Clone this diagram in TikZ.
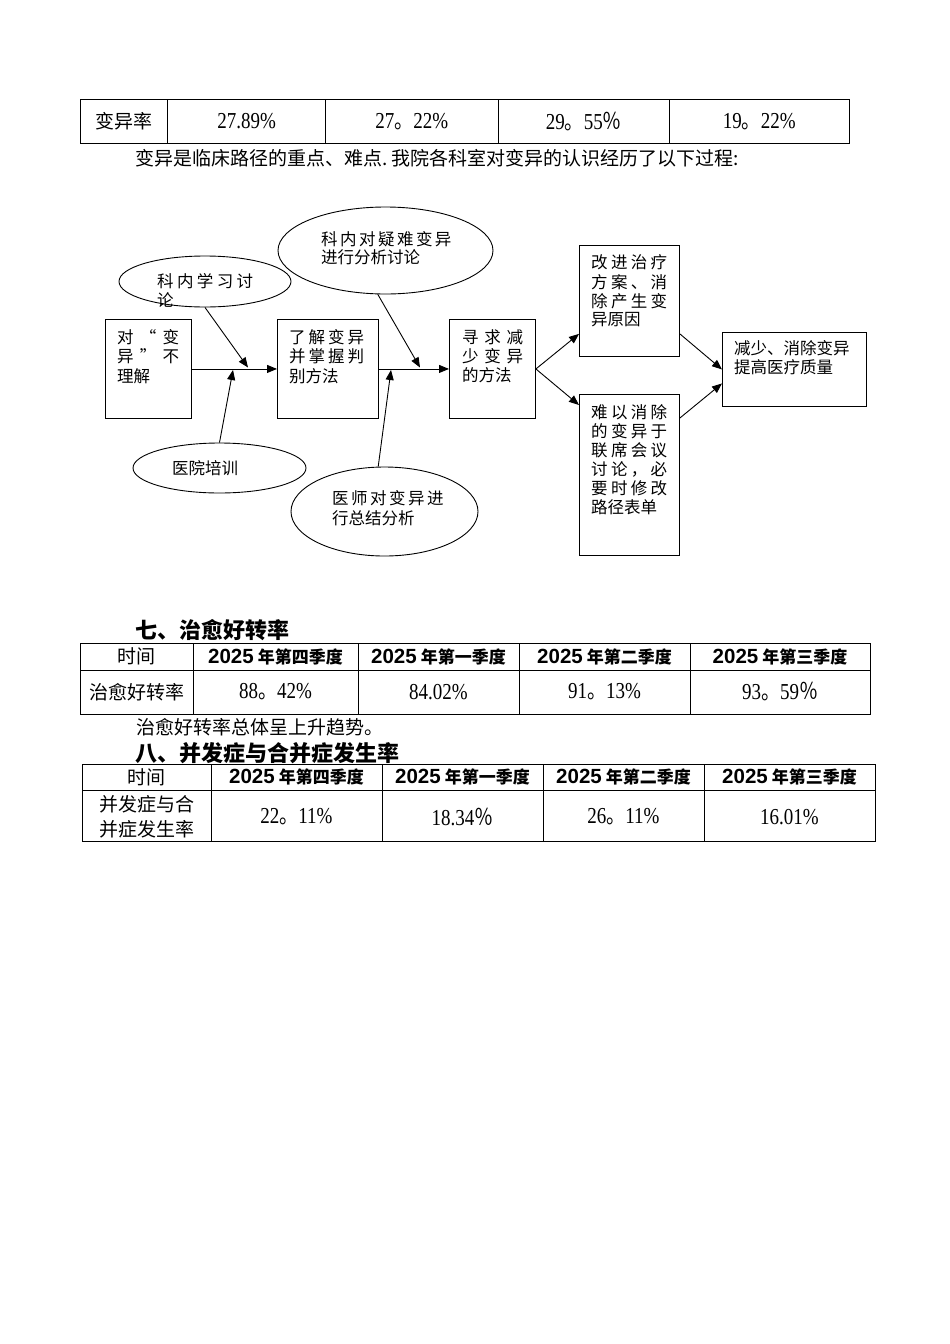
\documentclass[tikz,border=0pt]{standalone}
\usepackage{graphicx}
\usepackage{fontspec}
\setmainfont{Liberation Serif}
\newfontfamily\cjk{Noto Sans CJK SC}
\newfontfamily\hsans{Liberation Sans}
\usetikzlibrary{shapes.geometric,arrows.meta}
\newcommand\spr[2]{\makebox[#1pt][s]{#2}}
\newcommand\nv[1]{\scalebox{1}[1.2]{\rmfamily\fontsize{19}{19}\selectfont #1}}
\newcommand\cstop{{\cjk 。}}
\newcommand\cpct{{\cjk ％}}
\newcommand\hw[1]{\makebox[9.5pt][l]{#1}}
\newcommand\hdr[1]{{\hsans\bfseries\fontsize{20.5}{20.5}\selectfont 2025}\hspace{4pt}{\cjk\bfseries\fontsize{17}{17}\selectfont 年第#1季度}}
\begin{document}
\begin{tikzpicture}[x=1pt,y=-1pt,
 box/.style={draw,line width=0.9pt,rectangle,inner sep=0pt,anchor=north west},
 oval/.style={draw,line width=0.9pt,ellipse,inner sep=0pt},
 dtext/.style={anchor=west,inner sep=0pt,font=\cjk\fontsize{16.5}{16.5}\selectfont},
 arr/.style={line width=0.9pt,-{Triangle[length=10pt,width=8pt]}},
 tbl/.style={line width=0.9pt},
 cell/.style={inner sep=0pt,anchor=center,font=\cjk\fontsize{19}{19}\selectfont},
 para/.style={anchor=west,inner sep=0pt,font=\cjk\fontsize{19}{19}\selectfont},
 head/.style={anchor=west,inner sep=0pt,font=\cjk\bfseries\fontsize{22}{22}\selectfont}
]
\useasboundingbox[fill=white] (0,0) rectangle (950,1344);

% ---------- table 1 ----------
\draw[tbl] (80.5,99.5) rectangle (849,143.5);
\foreach \x in {167.7,325.7,498,669.5} \draw[tbl] (\x,99.5) -- (\x,143.5);
\node[cell] (t1a) at (124,121.5) {变异率};
\node[cell] (t1b) at (246.7,121.5) {\nv{27.89\%}};
\node[cell] (t1c) at (411.8,121.5) {\nv{27\cstop 22\%}};
\node[cell] (t1d) at (583.8,121.5) {\nv{29\cstop 55\cpct}};
\node[cell] (t1e) at (759.2,121.5) {\nv{19\cstop 22\%}};

\node[para] (p1) at (135,158) {变异是临床路径的重点、难点\hw{.}我院各科室对变异的认识经历了以下过程\hw{:}};

% ---------- flow diagram ----------
\node[box,minimum width=86pt,minimum height=99pt] (A) at (105,319) {};
\node[box,minimum width=101pt,minimum height=99pt] (B) at (277,319) {};
\node[box,minimum width=86pt,minimum height=99pt] (C) at (449,319) {};
\node[box,minimum width=100pt,minimum height=111pt] (D) at (579,245) {};
\node[box,minimum width=100pt,minimum height=161pt] (E) at (579,394) {};
\node[box,minimum width=144pt,minimum height=74pt] (F) at (722,332) {};

\node[oval,minimum width=172pt,minimum height=51pt] (e1) at (205,281.5) {};
\node[oval,minimum width=215pt,minimum height=87pt] (e2) at (385.5,250.5) {};
\node[oval,minimum width=173pt,minimum height=50pt] (e3) at (219.5,468) {};
\node[oval,minimum width=187pt,minimum height=89pt] (e4) at (384.5,511.5) {};

\coordinate (m1) at (248,367.5);
\coordinate (m2) at (420,367.5);
\coordinate (m3) at (233,370);
\coordinate (m4) at (391,370);

\draw[arr] (A.east) -- (B.west);
\draw[arr] (B.east) -- (C.west);
\draw[arr] (C.east) -- ([yshift=23pt]D.south west);
\draw[arr] (C.east) -- ([yshift=-11pt]E.north west);
\draw[arr] ([yshift=23pt]D.south east) -- (F.west);
\draw[arr] ([yshift=-24pt]E.north east) -- ([yshift=-14pt]F.west);
\draw[arr] (e1.south) -- (m1);
\draw[arr] (e2.260) -- (m2);
\draw[arr] (e3.north) -- (m3);
\draw[arr] (e4.98) -- (m4);

% box texts
\node[dtext] (a1) at (117,337) {\spr{62}{对 “ 变}};
\node[dtext] (a2) at (117,356.5) {\spr{62}{异 ” 不}};
\node[dtext] (a3) at (117,376) {理解};
\node[dtext] (b1) at (289,337) {\spr{75}{了 解 变 异}};
\node[dtext] (b2) at (289,356.5) {\spr{75}{并 掌 握 判}};
\node[dtext] (b3) at (289,376) {别方法};
\node[dtext] (c1) at (462,337) {\spr{61}{寻 求 减}};
\node[dtext] (c2) at (462,356) {\spr{61}{少 变 异}};
\node[dtext] (c3) at (462,375) {的方法};
\node[dtext] (d1) at (591,262) {\spr{76}{改 进 治 疗}};
\node[dtext] (d2) at (591,282) {\spr{76}{方 案 、 消}};
\node[dtext] (d3) at (591,301) {\spr{76}{除 产 生 变}};
\node[dtext] (d4) at (591,320) {异原因};
\node[dtext] (x1) at (591,412) {\spr{76}{难 以 消 除}};
\node[dtext] (x2) at (591,431) {\spr{76}{的 变 异 于}};
\node[dtext] (x3) at (591,450) {\spr{76}{联 席 会 议}};
\node[dtext] (x4) at (591,469) {\spr{76}{讨 论 ， 必}};
\node[dtext] (x5) at (591,488) {\spr{76}{要 时 修 改}};
\node[dtext] (x6) at (591,507) {路径表单};
\node[dtext] (f1) at (734,348) {减少、消除变异};
\node[dtext] (f2) at (734,367) {提高医疗质量};
% ellipse texts
\node[dtext] (o11) at (157,281) {\spr{96}{科 内 学 习 讨}};
\node[dtext] (o12) at (157,300) {论};
\node[dtext] (o21) at (321,239) {\spr{127}{科 内 对 疑 难 变 异}};
\node[dtext] (o22) at (321,257) {进行分析讨论};
\node[dtext] (o31) at (172,468) {医院培训};
\node[dtext] (o41) at (332,498) {\spr{106}{医 师 对 变 异 进}};
\node[dtext] (o42) at (332,518) {行总结分析};

% ---------- section 7 ----------
\node[head] (h7) at (135,630) {七、治愈好转率};
\draw[tbl] (80,643) rectangle (870,714);
\draw[tbl] (80,670) -- (870,670);
\foreach \x in {193,358,519,690} \draw[tbl] (\x,643) -- (\x,714);
\node[cell] (t2a) at (136.5,656.5) {时间};
\node[cell] (t2b) at (275.5,656.5) {\hdr{四}};
\node[cell] (t2c) at (438.5,656.5) {\hdr{一}};
\node[cell] (t2d) at (604.5,656.5) {\hdr{二}};
\node[cell] (t2e) at (780,656.5) {\hdr{三}};
\node[cell] (t2f) at (136.5,692) {治愈好转率};
\node[cell] (t2g) at (275.5,692) {\nv{88\cstop 42\%}};
\node[cell] (t2h) at (438.5,692) {\nv{84.02\%}};
\node[cell] (t2i) at (604.5,692) {\nv{91\cstop 13\%}};
\node[cell] (t2j) at (780,692) {\nv{93\cstop 59\cpct}};
\node[para] (p2) at (136,727) {治愈好转率总体呈上升趋势。};

% ---------- section 8 ----------
\node[head] (h8) at (135,753) {八、并发症与合并症发生率};
\draw[tbl] (82,764) rectangle (875,841);
\draw[tbl] (82,790) -- (875,790);
\foreach \x in {211,382,543,704} \draw[tbl] (\x,764) -- (\x,841);
\node[cell] (t3a) at (146.5,777) {时间};
\node[cell] (t3b) at (296.5,777) {\hdr{四}};
\node[cell] (t3c) at (462.5,777) {\hdr{一}};
\node[cell] (t3d) at (623.5,777) {\hdr{二}};
\node[cell] (t3e) at (789.5,777) {\hdr{三}};
\node[cell] (t3f) at (146.5,804.5) {并发症与合};
\node[cell] (t3g) at (146.5,829) {并症发生率};
\node[cell] (t3h) at (296.5,817) {\nv{22\cstop 11\%}};
\node[cell] (t3i) at (462.5,817) {\nv{18.34\cpct}};
\node[cell] (t3j) at (623.5,817) {\nv{26\cstop 11\%}};
\node[cell] (t3k) at (789.5,817) {\nv{16.01\%}};
\end{tikzpicture}
\end{document}
